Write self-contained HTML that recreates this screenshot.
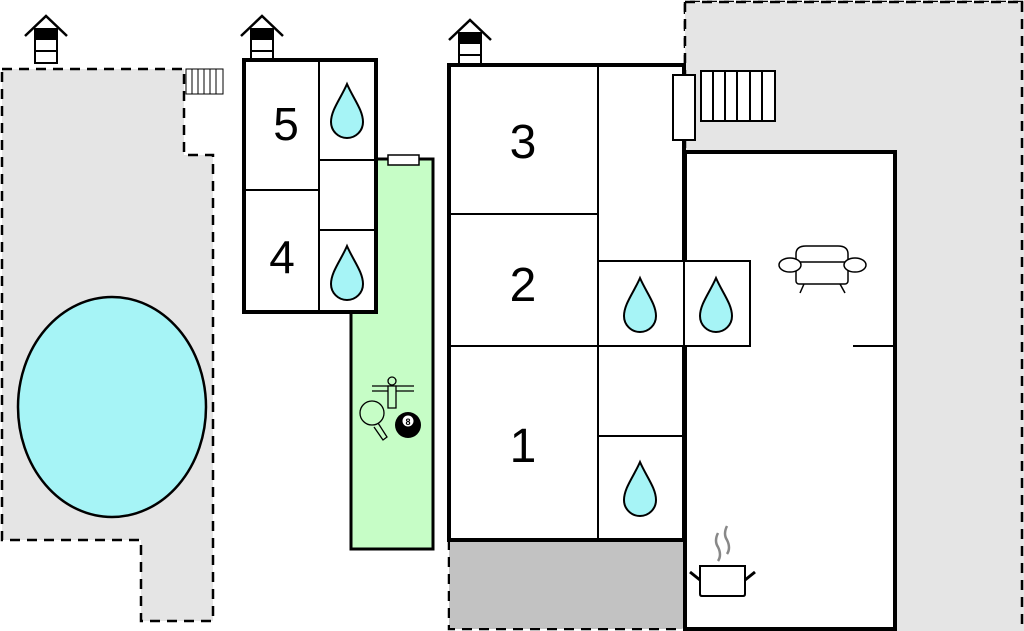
<!DOCTYPE html>
<html><head><meta charset="utf-8"><style>html,body{margin:0;padding:0;background:#fff}svg{display:block}text{font-family:"Liberation Sans",sans-serif}</style></head><body>
<svg width="1024" height="631" viewBox="0 0 1024 631" xmlns="http://www.w3.org/2000/svg">
<defs>
<g id="drop"><path d="M0,-26 C6,-12 16,0 16,12 A16,16 0 0 1 -16,12 C-16,0 -6,-12 0,-26 Z" fill="#a6f4f6" stroke="#000" stroke-width="2"/></g>
<g id="hut"><polyline points="-21,21 0,1 21,21" fill="none" stroke="#000" stroke-width="2.5"/><rect x="-11" y="14" width="22" height="34" fill="#fff" stroke="#000" stroke-width="2"/><rect x="-11" y="14" width="22" height="11" fill="#000"/><line x1="-11" y1="36" x2="11" y2="36" stroke="#000" stroke-width="2"/></g>
</defs>
<!-- terraces -->
<path d="M2,69 H184 V155 H213 V621 H141 V540 H2 Z" fill="#e5e5e5" stroke="#000" stroke-width="2.5" stroke-dasharray="10,7"/>
<path d="M685,150 V2 H1022 V629 H895" fill="#e5e5e5" stroke="#000" stroke-width="2.5" stroke-dasharray="10,7"/>
<rect x="685" y="2" width="339" height="629" fill="#e5e5e5"/>
<line x1="685" y1="2" x2="685" y2="150" stroke="#000" stroke-width="2.5" stroke-dasharray="10,7"/>
<line x1="685" y1="2" x2="1022" y2="2" stroke="#000" stroke-width="2.5" stroke-dasharray="10,7"/>
<line x1="1022" y1="2" x2="1022" y2="629" stroke="#000" stroke-width="2.5" stroke-dasharray="10,7"/>
<path d="M449,540 V629 H684" fill="#c2c2c2" stroke="#000" stroke-width="2.5" stroke-dasharray="10,7"/>
<rect x="450" y="541" width="233" height="87" fill="#c2c2c2"/>
<ellipse cx="112" cy="407" rx="94" ry="110" fill="#a6f4f6" stroke="#000" stroke-width="2.5"/>
<!-- stairs -->
<rect x="186" y="69" width="37" height="25" fill="#fff" stroke="#000" stroke-width="1"/>
<g stroke="#000" stroke-width="1"><line x1="192" y1="69" x2="192" y2="94"/><line x1="198" y1="69" x2="198" y2="94"/><line x1="204" y1="69" x2="204" y2="94"/><line x1="210" y1="69" x2="210" y2="94"/><line x1="216" y1="69" x2="216" y2="94"/></g>
<rect x="701" y="71" width="74" height="50" fill="#fff" stroke="#000" stroke-width="2"/>
<g stroke="#000" stroke-width="2"><line x1="713" y1="71" x2="713" y2="121"/><line x1="725" y1="71" x2="725" y2="121"/><line x1="737" y1="71" x2="737" y2="121"/><line x1="750" y1="71" x2="750" y2="121"/><line x1="762" y1="71" x2="762" y2="121"/></g>
<!-- huts -->
<use href="#hut" x="46" y="15"/><use href="#hut" x="262" y="15"/><use href="#hut" x="470" y="19"/>
<!-- green room -->
<rect x="351" y="159" width="82" height="390" fill="#c6fdc6" stroke="#000" stroke-width="3"/>
<rect x="388" y="155" width="31" height="10" fill="#fff" stroke="#000" stroke-width="1.5"/>
<!-- building A -->
<rect x="244" y="60" width="132" height="252" fill="#fff" stroke="#000" stroke-width="4"/>
<g stroke="#000" stroke-width="2"><line x1="319" y1="60" x2="319" y2="312"/><line x1="244" y1="190" x2="319" y2="190"/><line x1="319" y1="160" x2="376" y2="160"/><line x1="319" y1="230" x2="376" y2="230"/></g>
<text x="286" y="140" font-size="46" text-anchor="middle">5</text>
<text x="282" y="273" font-size="46" text-anchor="middle">4</text>
<use href="#drop" x="347" y="110"/><use href="#drop" x="347" y="272"/>
<!-- game icons -->
<g stroke="#000" stroke-width="1.3" fill="none">
<line x1="372" y1="386" x2="414" y2="386"/><line x1="372" y1="391" x2="414" y2="391"/>
<circle cx="392" cy="381" r="4" fill="#c6fdc6"/>
<path d="M388,386 h8 v22 h-8 z" fill="#c6fdc6"/>
<ellipse cx="372" cy="413" rx="12" ry="12" fill="#c6fdc6"/>
<path d="M378,423 l9,14 l-4,3 l-9,-13"/>
</g>
<circle cx="408" cy="425" r="13" fill="#000"/>
<circle cx="408" cy="421" r="5.5" fill="#fff"/>
<text x="408" y="425" font-size="9" font-weight="bold" text-anchor="middle">8</text>
<!-- right building -->
<rect x="685" y="152" width="210" height="477" fill="#fff" stroke="#000" stroke-width="4"/>
<line x1="853" y1="346" x2="895" y2="346" stroke="#000" stroke-width="2"/>
<!-- main building -->
<rect x="449" y="65" width="235" height="475" fill="#fff" stroke="#000" stroke-width="4"/>
<g stroke="#000" stroke-width="2">
<line x1="598" y1="65" x2="598" y2="540"/><line x1="449" y1="214" x2="598" y2="214"/><line x1="449" y1="346" x2="598" y2="346"/>
<line x1="598" y1="346" x2="684" y2="346"/><line x1="598" y1="436" x2="684" y2="436"/>
</g>
<rect x="598" y="261" width="152" height="85" fill="#fff" stroke="#000" stroke-width="2"/>
<line x1="684" y1="261" x2="684" y2="346" stroke="#000" stroke-width="2"/>
<text x="523" y="158" font-size="48" text-anchor="middle">3</text>
<text x="523" y="301" font-size="48" text-anchor="middle">2</text>
<text x="523" y="462" font-size="48" text-anchor="middle">1</text>
<use href="#drop" x="640" y="304"/><use href="#drop" x="716" y="304"/><use href="#drop" x="640" y="488"/>
<rect x="673" y="75" width="22" height="65" fill="#fff" stroke="#000" stroke-width="2"/>
<!-- sofa -->
<g stroke="#000" stroke-width="1.5" fill="#fff">
<path d="M796,268 v-14 q0,-8 10,-8 h32 q10,0 10,8 v14"/>
<rect x="796" y="262" width="52" height="22" rx="3"/>
<ellipse cx="790" cy="265" rx="11" ry="7"/><ellipse cx="855" cy="265" rx="11" ry="7"/>
<line x1="804" y1="284" x2="800" y2="293"/><line x1="840" y1="284" x2="845" y2="293"/>
</g>
<!-- pot -->
<g fill="none">
<path d="M718,533 q-4,8 0,14 q4,8 0,14 M727,526 q-4,8 0,14 q4,8 0,14" stroke="#888" stroke-width="2.5"/>
<path d="M700,566 h45 v28 q0,2 -2,2 h-41 q-2,0 -2,-2 z" fill="#fff" stroke="#000" stroke-width="2"/>
<line x1="690" y1="572" x2="700" y2="580" stroke="#000" stroke-width="3"/>
<line x1="755" y1="572" x2="745" y2="580" stroke="#000" stroke-width="3"/>
</g>
</svg>
</body></html>
